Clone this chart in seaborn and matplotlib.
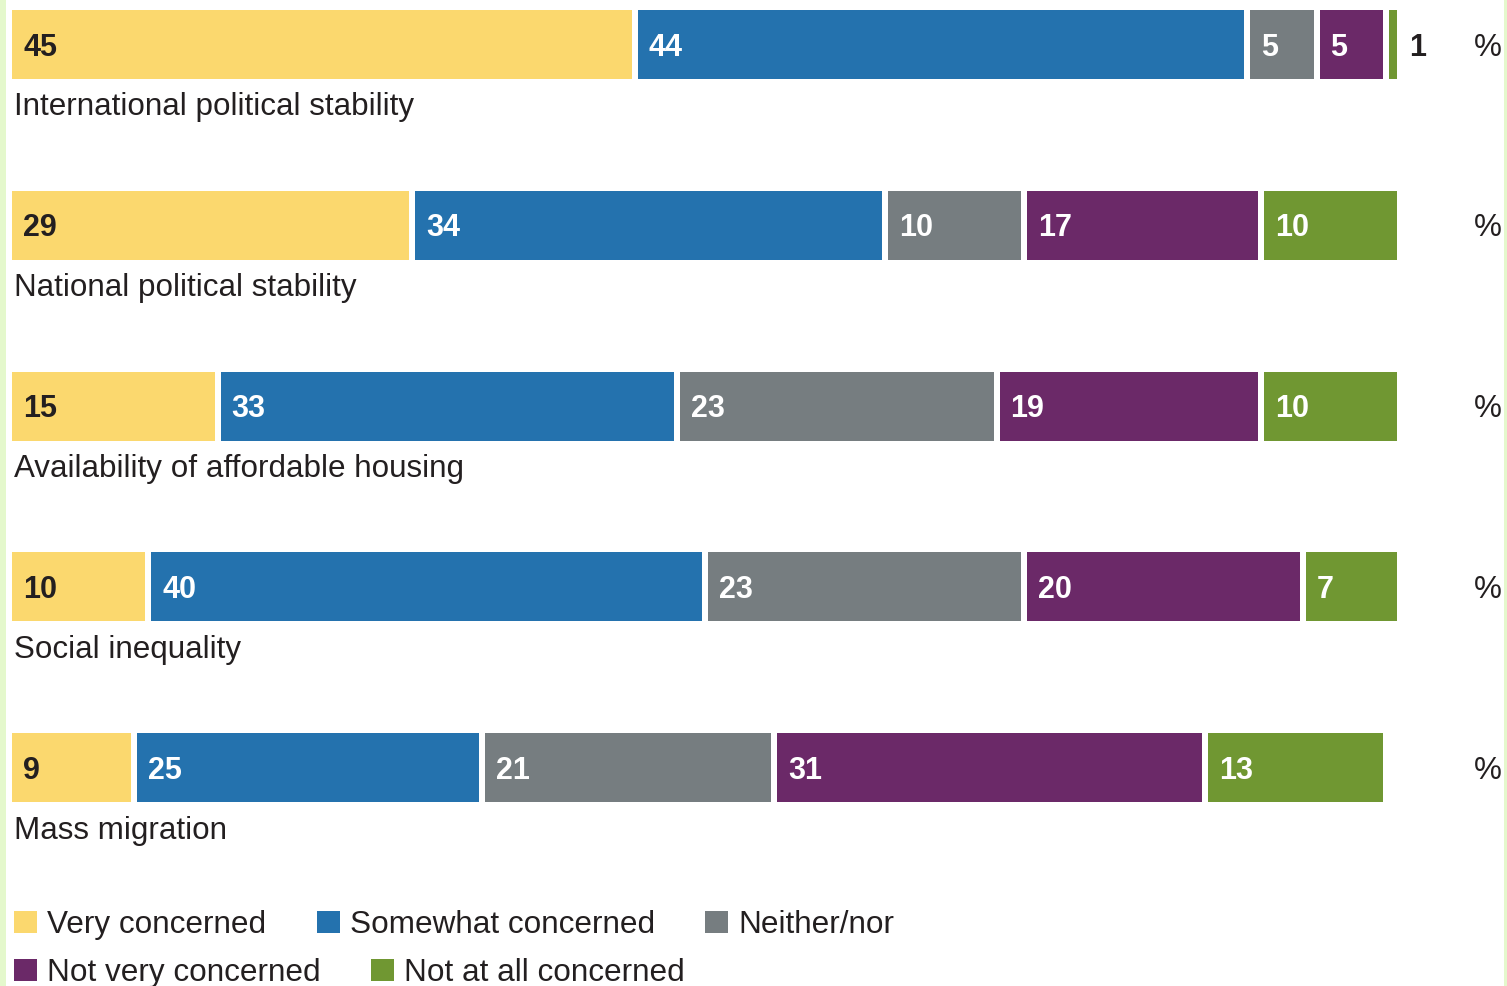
import numpy as np
import pandas as pd
import matplotlib
matplotlib.use("Agg")
import matplotlib.pyplot as plt
from matplotlib.patches import Patch, Rectangle
import seaborn as sns

# Survey responses (%), one list per answer option
categories = [
    "International political stability",
    "National political stability",
    "Availability of affordable housing",
    "Social inequality",
    "Mass migration",
]
very_concerned = [45, 29, 15, 10, 9]
somewhat_concerned = [44, 34, 33, 40, 25]
neither_nor = [5, 10, 23, 23, 21]
not_very_concerned = [5, 17, 19, 20, 31]
not_at_all_concerned = [1, 10, 10, 7, 13]

series_names = ["Very concerned", "Somewhat concerned", "Neither/nor",
                "Not very concerned", "Not at all concerned"]
series_values = [very_concerned, somewhat_concerned, neither_nor,
                 not_very_concerned, not_at_all_concerned]
series_colors = ["#FBD86E", "#2472AE", "#767D80", "#6B2968", "#709732"]
label_colors = ["#231F20", "white", "white", "white", "white"]

DPI = 100
W_PX, H_PX = 1507, 986
PT = 72 / DPI  # points per pixel

# Pixel geometry of the plotting area
X0_PX, X_SCALE = 9, 13.91      # pixel of value 0, pixels per percentage point
Y0_PX, Y_STEP = 44.5, 180.8    # pixel of first row centre, pixels per row
BAR_W = 75 / Y_STEP
DARK = "#231F20"
STRIP = "#E4F8CC"
TEXT_SIZE = 22.6

sns.set_theme(style="white")
plt.rcParams["font.family"] = ["Liberation Sans", "DejaVu Sans"]
BOLD_FAMILY = ["Liberation Sans Narrow", "Liberation Sans", "DejaVu Sans"]

fig = plt.figure(figsize=(W_PX / DPI, H_PX / DPI), dpi=DPI)
ax = fig.add_axes([0, 0, 1, 1])

# Stacked bars: cumulative totals drawn from the outermost segment inward
values = np.array(series_values)
cum = np.cumsum(values, axis=0)
df = pd.DataFrame({"category": categories})
for k in range(len(series_names)):
    df[f"cum{k}"] = cum[k]

for k in reversed(range(len(series_names))):
    sns.barplot(data=df, x=f"cum{k}", y="category", orient="h",
                color=series_colors[k], saturation=1, width=BAR_W,
                edgecolor="white", linewidth=6 * PT, errorbar=None, ax=ax)

# Segment value labels, category names and unit marks
for i, cat in enumerate(categories):
    left = 0
    for k in range(len(series_names)):
        v = values[k][i]
        if v >= 3:
            ax.annotate(str(v), (left, i), xytext=(14 * PT, -11 * PT),
                        textcoords="offset points", ha="left", va="baseline",
                        color=label_colors[k], fontsize=22, fontweight="bold",
                        family=BOLD_FAMILY)
        else:
            ax.annotate(str(v), (left + v, i), xytext=(9 * PT, -11 * PT),
                        textcoords="offset points", ha="left", va="baseline",
                        color=DARK, fontsize=22, fontweight="bold",
                        family=BOLD_FAMILY)
        left += v
    ax.annotate(cat, (0, i), xytext=(5 * PT, -71 * PT),
                textcoords="offset points", ha="left", va="baseline",
                color=DARK, fontsize=TEXT_SIZE)
    ax.annotate("%", ((1474 - X0_PX) / X_SCALE, i), xytext=(0, -11 * PT),
                textcoords="offset points", ha="left", va="baseline",
                color=DARK, fontsize=TEXT_SIZE)

ax.set_xlim(-X0_PX / X_SCALE, (W_PX - X0_PX) / X_SCALE)
ax.set_ylim((H_PX - Y0_PX) / Y_STEP, -Y0_PX / Y_STEP)
ax.axis("off")

# Legend in two rows
handles = [Patch(facecolor=c, edgecolor="none", label=n)
           for n, c in zip(series_names, series_colors)]
legend_kw = dict(loc="center left", frameon=False, fontsize=22.7,
                 handlelength=0.73, handleheight=0.73, handletextpad=0.32,
                 columnspacing=1.6, borderpad=0, borderaxespad=0,
                 labelcolor=DARK)
fig.legend(handles=handles[:3], ncol=3,
           bbox_to_anchor=(14 / W_PX, 1 - 925 / H_PX), **legend_kw)
fig.legend(handles=handles[3:], ncol=2,
           bbox_to_anchor=(14 / W_PX, 1 - 973 / H_PX), **legend_kw)

# Pale frame strips at the left and right edges
fig.patches.append(Rectangle((0, 0), 6 / W_PX, 1, transform=fig.transFigure,
                             facecolor=STRIP, edgecolor="none", zorder=10))
fig.patches.append(Rectangle((1504 / W_PX, 0), 3 / W_PX, 1,
                             transform=fig.transFigure, facecolor=STRIP,
                             edgecolor="none", zorder=10))

fig.savefig("out.png", dpi=DPI, facecolor="white")
